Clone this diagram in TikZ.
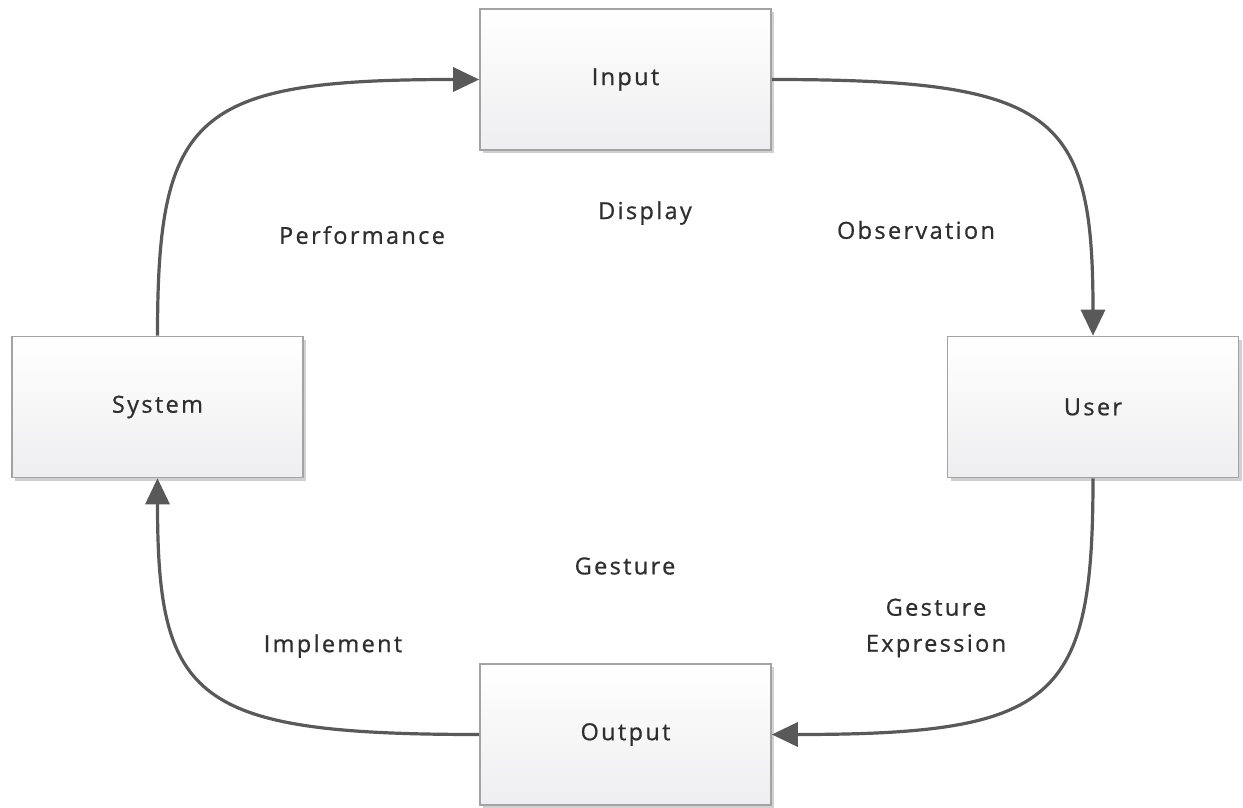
\documentclass[tikz,border=0pt]{standalone}
\usepackage{fontspec}
\setmainfont{Open Sans}[LetterSpace=10, FakeBold=0.7]
\usetikzlibrary{arrows.meta,shadows}
\definecolor{linegray}{HTML}{595959}
\definecolor{boxedge}{HTML}{A3A3A3}
\definecolor{boxbottom}{HTML}{EEEEF0}
\definecolor{txt}{HTML}{2E2E2E}
\tikzset{
  block/.style={draw=boxedge, line width=1.6pt, rectangle,
    minimum width=291pt, minimum height=141pt,
    top color=white, bottom color=boxbottom,
    drop shadow={shadow xshift=3pt, shadow yshift=-3pt, opacity=0.18, fill=black},
    font=\fontsize{23.5}{26}\selectfont, text=txt},
  conn/.style={draw=linegray, line width=3.2pt,
    -{Triangle[length=26pt,width=24pt]}},
  lbl/.style={font=\fontsize{23.5}{36}\selectfont, text=txt, align=center}
}
\begin{document}
\begin{tikzpicture}[x=1pt,y=-1pt]
\useasboundingbox (0,0) rectangle (1243,808);
\fill[white] (0,0) rectangle (1243,808);

% the four stages of the loop
\node[block] (in)   at (625.5,79.5)  {Input};
\node[block] (sys)  at (157.5,407)   {System};
\node[block] (user) at (1093,407)    {User};
\node[block] (out)  at (625.5,734.5) {Output};

% curved connectors running clockwise
\draw[conn] (sys.north) .. controls +(0,-222) and +(-285,0) .. (in.west);
\draw[conn] (in.east) .. controls +(285,0) and +(0,-222) .. (user.north);
\draw[conn] (user.south) .. controls +(0,222) and +(285,0) .. (out.east);
\draw[conn] (out.west) .. controls +(-285,0) and +(0,222) .. (sys.south);

% free labels
\node[lbl] (display) at (645,213)  {Display};
\node[lbl] (perf)    at (362,235)  {Performance};
\node[lbl] (obs)     at (916,230)  {Observation};
\node[lbl] (gest)    at (625,566)  {Gesture};
\node[lbl] (impl)    at (333,646)  {Implement};
\node[lbl] (gexp)    at (936,628)  {Gesture\\Expression};
\end{tikzpicture}
\end{document}
